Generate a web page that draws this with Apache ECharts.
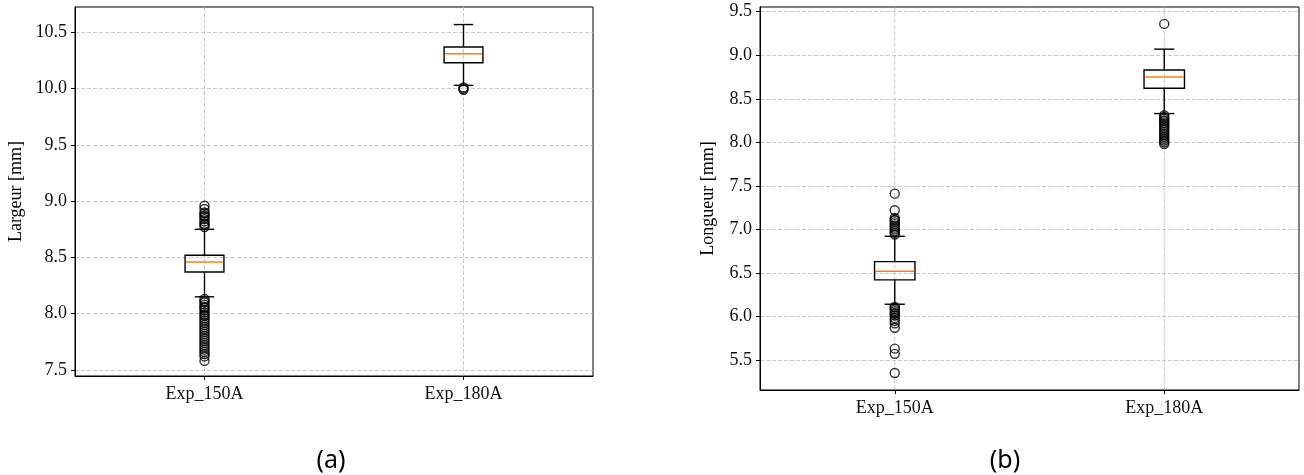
<!DOCTYPE html>
<html><head><meta charset="utf-8">
<script src="https://cdn.jsdelivr.net/npm/echarts@6/dist/echarts.min.js"></script>
<style>html,body{margin:0;padding:0;background:#fff}#c{width:1304px;height:475px}</style>
</head><body><div id="c"></div>
<script>
const categories = ['Exp_150A', 'Exp_180A'];
// [lower whisker, Q1, median, Q3, upper whisker]
const largeurStats = [[8.15, 8.37, 8.46, 8.52, 8.75], [10.03, 10.23, 10.31, 10.37, 10.57]];
const largeur150Outliers = [8.77, 8.79, 8.80, 8.82, 8.84, 8.86, 8.87, 8.89, 8.90, 8.93, 8.96,
  8.13, 8.11, 8.10, 8.08, 8.06, 8.05, 8.03, 8.01, 7.99, 7.98, 7.96, 7.94, 7.92, 7.90, 7.88,
  7.86, 7.84, 7.82, 7.80, 7.78, 7.76, 7.74, 7.72, 7.70, 7.68, 7.66, 7.64, 7.62, 7.58];
const largeur180Outliers = [10.01, 10.00, 9.99];
const longueurStats = [[6.14, 6.42, 6.52, 6.63, 6.92], [8.33, 8.62, 8.75, 8.83, 9.07]];
const longueur150Outliers = [7.41, 7.22, 7.13, 7.11, 7.10, 7.08, 7.06, 7.04, 7.02, 7.00, 6.98, 6.96, 6.94,
  6.11, 6.10, 6.08, 6.06, 6.04, 6.03, 6.01, 5.98, 5.95, 5.92, 5.87, 5.63, 5.57, 5.35];
const longueur180Outliers = [9.36, 8.31, 8.29, 8.27, 8.25, 8.24, 8.22, 8.20, 8.18, 8.16, 8.14,
  8.12, 8.10, 8.08, 8.06, 8.04, 8.02, 8.00, 7.98];
const largeurTicks = ['7.5', '8.0', '8.5', '9.0', '9.5', '10.0', '10.5'];
const longueurTicks = ['5.5', '6.0', '6.5', '7.0', '7.5', '8.0', '8.5', '9.0', '9.5'];

const serif = 'Liberation Serif';
const gridLine = {color: '#bdbdbd', width: 0.8, type: [4, 2]};

function boxRender(params, api) {
  const x = api.value(0);
  const lw = api.value(1), q1 = api.value(2), med = api.value(3), q3 = api.value(4), uw = api.value(5);
  const band = api.size([1, 0])[0];
  const bw = band * 0.15, cw = bw / 2;
  const c = api.coord([x, med]);
  const cx = c[0], ym = c[1];
  const yq1 = api.coord([x, q1])[1], yq3 = api.coord([x, q3])[1];
  const ylw = api.coord([x, lw])[1], yuw = api.coord([x, uw])[1];
  const s = {stroke: '#000', lineWidth: 1.4, fill: null};
  return {type: 'group', children: [
    {type: 'line', shape: {x1: cx, y1: yq1, x2: cx, y2: ylw}, style: s},
    {type: 'line', shape: {x1: cx, y1: yq3, x2: cx, y2: yuw}, style: s},
    {type: 'line', shape: {x1: cx - cw / 2, y1: ylw, x2: cx + cw / 2, y2: ylw}, style: s},
    {type: 'line', shape: {x1: cx - cw / 2, y1: yuw, x2: cx + cw / 2, y2: yuw}, style: s},
    {type: 'rect', shape: {x: cx - bw / 2, y: yq3, width: bw, height: yq1 - yq3}, style: {stroke: '#000', lineWidth: 1.4, fill: null}},
    {type: 'line', shape: {x1: cx - bw / 2 + 0.7, y1: ym, x2: cx + bw / 2 - 0.7, y2: ym}, style: {stroke: '#ff7f0e', lineWidth: 1.5}}
  ]};
}
function vGridRender(params, api) {
  const cs = params.coordSys;
  const cx = api.coord([api.value(0), 0])[0];
  return {type: 'line', shape: {x1: cx, y1: cs.y, x2: cx, y2: cs.y + cs.height},
    style: {stroke: gridLine.color, lineWidth: gridLine.width, lineDash: gridLine.type}};
}

function boxData(stats) { return stats.map((s, i) => [i].concat(s)); }
function outData(arr, idx) { return arr.map(v => [idx, v]); }

function yAxis(gridIndex, min, max, name, ticks, nameGap) {
  return {
    type: 'value', gridIndex, min, max, minInterval: 0.5, maxInterval: 0.5, splitNumber: 7,
    name, nameLocation: 'middle', nameGap,
    nameTextStyle: {fontFamily: serif, fontSize: 18, color: '#000'},
    axisLine: {show: true, lineStyle: {color: '#000', width: 1}},
    axisTick: {show: true, length: 4, lineStyle: {color: '#000'}},
    axisLabel: {fontFamily: serif, fontSize: 18, color: '#111', margin: 8, showMinLabel: false, showMaxLabel: false,
      formatter: v => { const t = v.toFixed(1); return ticks.indexOf(t) >= 0 ? t : ''; }},
    splitLine: {show: true, lineStyle: gridLine, showMinLine: false, showMaxLine: false}
  };
}
function xAxis(gridIndex) {
  return {
    type: 'category', gridIndex, data: categories, boundaryGap: true,
    axisLine: {show: true, lineStyle: {color: '#000', width: 1}},
    axisTick: {show: true, alignWithLabel: true, length: 4, lineStyle: {color: '#000'}},
    axisLabel: {fontFamily: serif, fontSize: 18, color: '#111', margin: 9},
    splitLine: {show: false}
  };
}
function vGrid(xi, yi) {
  return {
    type: 'custom', xAxisIndex: xi, yAxisIndex: yi, silent: true, z: 1,
    renderItem: vGridRender, data: categories.map((c, i) => [i, 0]), encode: {x: 0, y: 1}
  };
}
function outSeries(xi, yi, arr, idx) {
  return {
    type: 'scatter', xAxisIndex: xi, yAxisIndex: yi, data: outData(arr, idx), z: 4,
    symbol: 'circle', symbolSize: 9,
    itemStyle: {color: 'rgba(0,0,0,0)', borderColor: '#000', borderWidth: 1.4}
  };
}

const chart = echarts.init(document.getElementById('c'), null, {renderer: 'canvas'});
chart.setOption({
  animation: false,
  backgroundColor: '#fff',
  grid: [
    {left: 75, top: 7, width: 518, height: 369, show: true, borderColor: '#000', borderWidth: 1, backgroundColor: '#fff'},
    {left: 760, top: 7, width: 539, height: 383, show: true, borderColor: '#000', borderWidth: 1, backgroundColor: '#fff'}
  ],
  xAxis: [xAxis(0), xAxis(1)],
  yAxis: [
    yAxis(0, 7.446, 10.726, 'Largeur [mm]', largeurTicks, 50),
    yAxis(1, 5.155, 9.554, 'Longueur [mm]', longueurTicks, 43)
  ],
  title: [
    {text: '(a)', left: 326, top: 443, textAlign: 'center', textStyle: {fontFamily: 'Noto Sans', fontSize: 25, fontWeight: 'normal', color: '#000'}},
    {text: '(b)', left: 1000, top: 443, textAlign: 'center', textStyle: {fontFamily: 'Noto Sans', fontSize: 25, fontWeight: 'normal', color: '#000'}}
  ],
  series: [
    vGrid(0, 0),
    vGrid(1, 1),
    {type: 'custom', xAxisIndex: 0, yAxisIndex: 0, renderItem: boxRender, data: boxData(largeurStats), z: 3,
      encode: {x: 0, y: [1, 2, 3, 4, 5]}},
    {type: 'custom', xAxisIndex: 1, yAxisIndex: 1, renderItem: boxRender, data: boxData(longueurStats), z: 3,
      encode: {x: 0, y: [1, 2, 3, 4, 5]}},
    outSeries(0, 0, largeur150Outliers, 0),
    outSeries(0, 0, largeur180Outliers, 1),
    outSeries(1, 1, longueur150Outliers, 0),
    outSeries(1, 1, longueur180Outliers, 1)
  ]
});
</script></body></html>
